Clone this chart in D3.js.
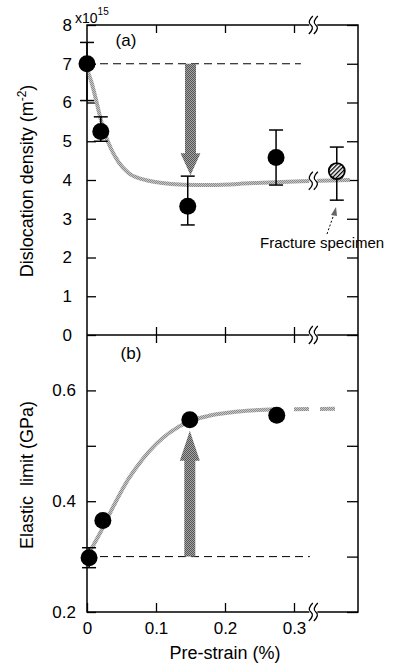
<!DOCTYPE html>
<html>
<head>
<meta charset="utf-8">
<script src="https://cdn.jsdelivr.net/npm/d3@7"></script>
<style>
  body { margin: 0; background: #fff; }
  text { font-family: "Liberation Sans", Arial, sans-serif; fill: #000; }
</style>
</head>
<body>
<div id="chart"></div>
<script>
// panel (a): dislocation density (x10^15 m^-2) vs pre-strain (%)
const strainA = [0, 0.02, 0.146, 0.274];
const densityA = [7.0, 5.25, 3.32, 4.58];
const densityLo = [6.05, 5.0, 2.84, 3.87];
const densityHi = [7.55, 5.63, 4.1, 5.29];
const fractureX = 0.362, fractureY = 4.23, fractureLo = 3.48, fractureHi = 4.85;
const fitAx = [0, 0.006, 0.012, 0.018, 0.025, 0.035, 0.045, 0.06, 0.08, 0.106, 0.14, 0.18, 0.24, 0.31, 0.381];
const fitAy = [6.85, 6.55, 6.15, 5.7, 5.25, 4.8, 4.48, 4.18, 4.02, 3.93, 3.88, 3.87, 3.92, 3.97, 4.0];
const refA = [7.0, 0.31];           // dashed level, end strain
const arrowA = [0.15, 7.0, 4.12];   // strain, from, to

// panel (b): elastic limit (GPa) vs pre-strain (%)
const strainB = [0.003, 0.023, 0.149, 0.275];
const elasticB = [0.298, 0.365, 0.547, 0.555];
const elasticErr0 = [0.28, 0.316];
const fitBx = [0, 0.02, 0.04, 0.06, 0.08, 0.1, 0.12, 0.15, 0.18, 0.22, 0.275];
const fitBy = [0.30, 0.345, 0.395, 0.44, 0.475, 0.503, 0.524, 0.545, 0.555, 0.562, 0.566];
const extBx = [0.30, 0.366];
const extBy = [0.566, 0.567];
const refB = [0.3, 0.323];
const arrowB = [0.149, 0.3, 0.527];

const xTicks = [0, 0.1, 0.2, 0.3];
const yTicksA = [0, 1, 2, 3, 4, 5, 6, 7, 8];
const yTicksB = [0.2, 0.3, 0.4, 0.5, 0.6];
const yLabelsB = ['0.2', '', '0.4', '', '0.6'];
const breakX = 0.328;

const W = 395, H = 663;
const mLeft = 87, mRight = 358, mTop = 25, mMid = 335, mBottom = 612;

const svg = d3.select('#chart').append('svg')
    .attr('width', W).attr('height', H);

const defs = svg.append('defs');
const tex = (id, a, b) => {
    const p = defs.append('pattern').attr('id', id)
        .attr('width', 2).attr('height', 2).attr('patternUnits', 'userSpaceOnUse');
    p.append('rect').attr('width', 2).attr('height', 2).attr('fill', b);
    p.append('rect').attr('width', 1).attr('height', 1).attr('fill', a);
    p.append('rect').attr('x', 1).attr('y', 1).attr('width', 1).attr('height', 1).attr('fill', a);
};
tex('arrowTex', '#555', '#a5a5a5');
tex('curveTex', '#8c8c8c', '#c8c8c8');
const hatch = defs.append('pattern').attr('id', 'hatch')
    .attr('width', 3).attr('height', 3).attr('patternUnits', 'userSpaceOnUse')
    .attr('patternTransform', 'rotate(45)');
hatch.append('rect').attr('width', 3).attr('height', 3).attr('fill', '#fff');
hatch.append('rect').attr('width', 1.3).attr('height', 3).attr('fill', '#000');

const x = d3.scaleLinear().domain([0, (mRight - mLeft) / 690]).range([mLeft, mRight]);
const ya = d3.scaleLinear().domain([0, 8]).range([mMid, mTop]);
const yb = d3.scaleLinear().domain([0.2, 0.7]).range([mBottom, mMid]);

// frame
const frame = svg.append('g').attr('stroke', '#000').attr('stroke-width', 1.5).attr('fill', 'none');
frame.append('path').attr('d', `M${mLeft},${mTop}H${mRight}V${mBottom}H${mLeft}Z`);
frame.append('line').attr('x1', mLeft).attr('x2', mRight).attr('y1', mMid).attr('y2', mMid);

const styleAxis = g => {
    g.select('.domain').remove();
    g.selectAll('.tick line').attr('stroke-width', 1.3);
    g.selectAll('text').style('font-size', '17px');
};

// y axes
svg.append('g').attr('transform', `translate(${mLeft},0)`)
    .call(d3.axisLeft(ya).tickValues(yTicksA).tickSize(-9).tickPadding(15).tickFormat(d3.format('d')))
    .call(styleAxis);
svg.append('g').attr('transform', `translate(${mRight},0)`)
    .call(d3.axisRight(ya).tickValues(yTicksA).tickSize(-11).tickFormat(''))
    .call(styleAxis);
svg.append('g').attr('transform', `translate(${mLeft},0)`)
    .call(d3.axisLeft(yb).tickValues(yTicksB).tickSize(-9).tickPadding(11).tickFormat((d, i) => yLabelsB[i]))
    .call(styleAxis);
svg.append('g').attr('transform', `translate(${mRight},0)`)
    .call(d3.axisRight(yb).tickValues(yTicksB).tickSize(-11).tickFormat(''))
    .call(styleAxis);

// x axes
const inner = xTicks.slice(1);
svg.append('g').attr('transform', `translate(0,${mTop})`)
    .call(d3.axisBottom(x).tickValues(inner).tickSize(8).tickFormat(''))
    .call(styleAxis);
svg.append('g').attr('transform', `translate(0,${mMid})`)
    .call(d3.axisBottom(x).tickValues(inner).tickSize(8).tickFormat(''))
    .call(styleAxis);
svg.append('g').attr('transform', `translate(0,${mMid})`)
    .call(d3.axisTop(x).tickValues(inner).tickSize(8).tickFormat(''))
    .call(styleAxis);
svg.append('g').attr('transform', `translate(0,${mBottom})`)
    .call(d3.axisBottom(x).tickValues(xTicks).tickSize(-9).tickPadding(10).tickFormat(d => d === 0 ? '0' : d3.format('.1f')(d)))
    .call(styleAxis);

// exponent
const expo = svg.append('text').attr('x', 75).attr('y', 23).style('font-size', '14px');
expo.append('tspan').text('x10');
expo.append('tspan').attr('dy', -8).style('font-size', '10px').text('15');

// reference dashed lines
svg.append('line').attr('x1', x(0)).attr('x2', x(refA[1])).attr('y1', ya(refA[0])).attr('y2', ya(refA[0]))
    .attr('stroke', '#000').attr('stroke-width', 1).attr('stroke-dasharray', '8,5');
svg.append('line').attr('x1', x(0)).attr('x2', x(refB[1])).attr('y1', yb(refB[0])).attr('y2', yb(refB[0]))
    .attr('stroke', '#000').attr('stroke-width', 1).attr('stroke-dasharray', '8,5');

// fitted curves
const lineA = d3.line().x(d => x(d[0])).y(d => ya(d[1])).curve(d3.curveMonotoneX);
const lineB = d3.line().x(d => x(d[0])).y(d => yb(d[1])).curve(d3.curveMonotoneX);
svg.append('path').datum(d3.zip(fitAx, fitAy)).attr('d', lineA)
    .attr('fill', 'none').attr('stroke', 'url(#curveTex)').attr('stroke-width', 4);
svg.append('path').datum(d3.zip(fitBx, fitBy)).attr('d', lineB)
    .attr('fill', 'none').attr('stroke', 'url(#curveTex)').attr('stroke-width', 4);
svg.append('path').datum(d3.zip(extBx, extBy)).attr('d', lineB)
    .attr('fill', 'none').attr('stroke', 'url(#curveTex)').attr('stroke-width', 4)
    .attr('stroke-dasharray', '15,11');

// big arrows
const bigArrow = (xs, y0, y1) => {
    const cx = x(xs), dir = y1 > y0 ? 1 : -1, head = dir > 0 ? 22 : 30;
    const yh = y1 - dir * head;
    svg.append('path')
        .attr('d', `M${cx - 5.5},${y0}V${yh}H${cx - 10}L${cx},${y1}L${cx + 10},${yh}H${cx + 5.5}V${y0}Z`)
        .attr('fill', 'url(#arrowTex)');
};
bigArrow(arrowA[0], ya(arrowA[1]), ya(arrowA[2]));
bigArrow(arrowB[0], yb(arrowB[1]), yb(arrowB[2]));

// error bars
const errBar = (cx, lo, hi) => {
    const g = svg.append('g').attr('stroke', '#000').attr('stroke-width', 1.5);
    g.append('line').attr('x1', cx).attr('x2', cx).attr('y1', lo).attr('y2', hi);
    g.append('line').attr('x1', cx - 7).attr('x2', cx + 7).attr('y1', lo).attr('y2', lo);
    g.append('line').attr('x1', cx - 7).attr('x2', cx + 7).attr('y1', hi).attr('y2', hi);
};
strainA.forEach((s, i) => errBar(x(s), ya(densityLo[i]), ya(densityHi[i])));
errBar(x(fractureX), ya(fractureLo), ya(fractureHi));
errBar(x(strainB[0]), yb(elasticErr0[0]), yb(elasticErr0[1]));

// points
svg.append('g').selectAll('circle').data(d3.zip(strainA, densityA)).join('circle')
    .attr('cx', d => x(d[0])).attr('cy', d => ya(d[1])).attr('r', 8.5).attr('fill', '#000');
svg.append('g').selectAll('circle').data(d3.zip(strainB, elasticB)).join('circle')
    .attr('cx', d => x(d[0])).attr('cy', d => yb(d[1])).attr('r', 8.5).attr('fill', '#000');
svg.append('circle').attr('cx', x(fractureX)).attr('cy', ya(fractureY)).attr('r', 8)
    .attr('fill', 'url(#hatch)').attr('stroke', '#000').attr('stroke-width', 1.8);

// axis breaks
const brk = (bx, by) => {
    svg.append('rect').attr('x', bx - 4).attr('y', by - 3).attr('width', 8).attr('height', 6).attr('fill', '#fff');
    [-2.5, 2.5].forEach(o => {
        svg.append('path')
            .attr('d', `M${bx + o + 2},${by - 9}Q${bx + o - 4},${by - 3} ${bx + o},${by}T${bx + o - 2},${by + 9}`)
            .attr('fill', 'none').attr('stroke', '#000').attr('stroke-width', 1.3);
    });
};
brk(x(breakX), mTop);
brk(x(breakX), mMid);
brk(x(breakX), mBottom);
brk(x(breakX), ya(3.98));

// annotations
svg.append('text').attr('x', 126).attr('y', 46).attr('text-anchor', 'middle').style('font-size', '17px').text('(a)');
svg.append('text').attr('x', 131).attr('y', 359).attr('text-anchor', 'middle').style('font-size', '17px').text('(b)');
svg.append('text').attr('x', 260).attr('y', 248).style('font-size', '15px').text('Fracture specimen');
svg.append('line').attr('x1', 327).attr('y1', 234).attr('x2', 334).attr('y2', 214)
    .attr('stroke', '#000').attr('stroke-width', 1).attr('stroke-dasharray', '2,2');
svg.append('path').attr('d', 'M336,207L331,215L337,216Z').attr('fill', '#666');

// axis titles
const titleA = svg.append('text').attr('transform', 'translate(33,181) rotate(-90)')
    .attr('text-anchor', 'middle').style('font-size', '18px');
titleA.append('tspan').text('Dislocation density (m');
titleA.append('tspan').attr('dy', -7).style('font-size', '12px').text('-2');
titleA.append('tspan').attr('dy', 7).text(')');
svg.append('text').attr('transform', 'translate(33,475) rotate(-90)')
    .attr('text-anchor', 'middle').style('font-size', '18px').style('white-space', 'pre')
    .text('Elastic  limit (GPa)');
svg.append('text').attr('x', 225).attr('y', 659).attr('text-anchor', 'middle')
    .style('font-size', '18px').text('Pre-strain (%)');
</script>
</body>
</html>
